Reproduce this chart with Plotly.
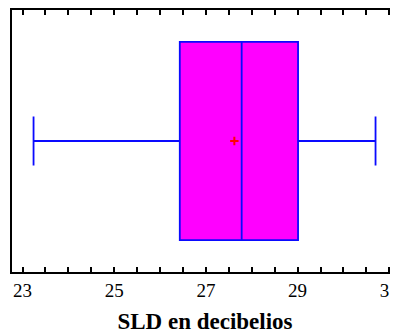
import plotly.graph_objects as go

# Box plot statistics
q1_vals = [26.43]
median_vals = [27.78]
q3_vals = [29.01]
lower_whisker = [23.24]
upper_whisker = [30.70]
mean_vals = [27.62]
tick_vals = [23, 25, 27, 29, 31]
tick_text = ["23", "25", "27", "29", "31"]
axis_title = "SLD en decibelios"

fig = go.Figure()
fig.add_trace(go.Box(
    y=[0], q1=q1_vals, median=median_vals, q3=q3_vals,
    lowerfence=lower_whisker, upperfence=upper_whisker,
    orientation="h", width=0.756, whiskerwidth=0.247,
    fillcolor="#FF00FF", line=dict(color="#0A0AFF", width=1.8),
    boxpoints=False, hoverinfo="skip", showlegend=False,
))
fig.add_trace(go.Scatter(
    x=mean_vals, y=[0], mode="markers",
    marker=dict(symbol="cross-thin", size=6, line=dict(color="#FF0000", width=2)),
    showlegend=False, hoverinfo="skip",
))

fig.update_layout(
    width=390, height=326,
    margin=dict(l=4, r=0, t=2, b=62),
    plot_bgcolor="white", paper_bgcolor="white",
    font=dict(family="Liberation Serif", color="black"),
    xaxis=dict(
        range=[22.77, 31.19], tickvals=tick_vals, ticktext=tick_text,
        ticks="inside", ticklen=5, tickwidth=1.5, tickcolor="black",
        minor=dict(dtick=0.5, tick0=23, ticks="inside", ticklen=5, tickwidth=1.5, tickcolor="black", showgrid=False),
        showline=True, linecolor="black", linewidth=2, mirror="ticks",
        showgrid=False, zeroline=False,
        tickfont=dict(size=19, family="Liberation Serif"),
        ticklabeloverflow="allow",
        title=dict(text="<b>" + axis_title + "</b>", font=dict(size=23, family="Liberation Serif"), standoff=13),
        automargin=False,
    ),
    yaxis=dict(
        range=[-0.5, 0.5], showticklabels=False, ticks="",
        showline=True, linecolor="black", linewidth=2,
        showgrid=False, zeroline=False, automargin=False,
    ),
)

fig.write_html("out.html")
